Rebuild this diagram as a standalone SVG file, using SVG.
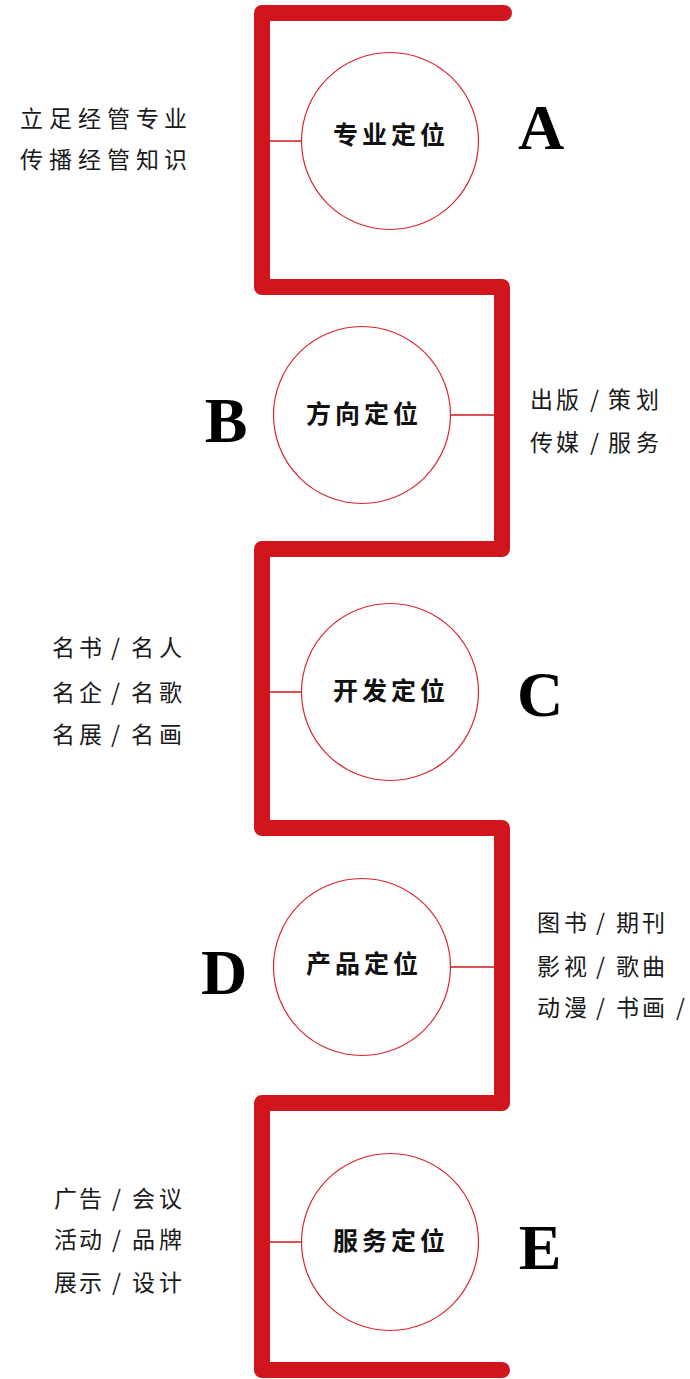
<svg xmlns="http://www.w3.org/2000/svg" width="690" height="1379" viewBox="0 0 690 1379">
<style>
.line{fill:none;stroke:#d0151d;stroke-width:16;stroke-linecap:round;stroke-linejoin:round}
.con{stroke:#d0151d;stroke-width:1.5}
.circ{fill:#fff;stroke:#d9262e;stroke-width:1.2}
.lbl{font-family:"Noto Sans CJK SC",sans-serif;font-weight:bold;font-size:25px;fill:#111;text-anchor:middle;letter-spacing:4px}
.let{font-family:"Liberation Serif",serif;font-weight:bold;font-size:64px;fill:#000;text-anchor:middle}
.txt{font-family:"Noto Sans CJK SC",sans-serif;font-size:23px;fill:#1a1a1a}
</style>
<rect width="690" height="1379" fill="#fff"/>
<g id="connectors">
<path class="line" d="M504 13 H262 V287 H502 V549 H262 V828 H502 V1103 H262 V1370 H502"/>
<line class="con" x1="270" y1="141" x2="302" y2="141"/>
<line class="con" x1="451" y1="415" x2="494" y2="415"/>
<line class="con" x1="270" y1="692" x2="302" y2="692"/>
<line class="con" x1="451" y1="967" x2="494" y2="967"/>
<line class="con" x1="270" y1="1242" x2="302" y2="1242"/>
</g>
<g id="nodeA">
<circle class="circ" cx="390" cy="141" r="88.5"/>
<text class="lbl" x="391" y="144">专业定位</text>
<text class="let" x="541" y="149">A</text>
<text class="txt" x="20 49 78 107 136 164" y="127">立足经管专业</text>
<text class="txt" x="20 49 78 107 136 164" y="168">传播经管知识</text>
</g>
<g id="nodeB">
<circle class="circ" cx="362" cy="415" r="88.5"/>
<text class="lbl" x="364" y="423">方向定位</text>
<text class="let" x="226" y="442">B</text>
<text class="txt" x="530 556 590 608 636" y="408">出版/策划</text>
<text class="txt" x="530 556 590 608 636" y="451">传媒/服务</text>
</g>
<g id="nodeC">
<circle class="circ" cx="390" cy="692" r="88.5"/>
<text class="lbl" x="391" y="700">开发定位</text>
<text class="let" x="540" y="716">C</text>
<text class="txt" x="52 79 111 131 159" y="656">名书/名人</text>
<text class="txt" x="52 79 111 131 159" y="701">名企/名歌</text>
<text class="txt" x="52 79 111 131 159" y="743">名展/名画</text>
</g>
<g id="nodeD">
<circle class="circ" cx="362" cy="967" r="88.5"/>
<text class="lbl" x="364" y="973">产品定位</text>
<text class="let" x="224" y="994">D</text>
<text class="txt" x="537 564 596 616 642" y="931">图书/期刊</text>
<text class="txt" x="537 564 596 616 642" y="975">影视/歌曲</text>
<text class="txt" x="537 564 596 616 642 676" y="1016">动漫/书画/</text>
</g>
<g id="nodeE">
<circle class="circ" cx="390" cy="1242" r="88.5"/>
<text class="lbl" x="391" y="1250">服务定位</text>
<text class="let" x="540" y="1269">E</text>
<text class="txt" x="54 79 112 132 159" y="1207">广告/会议</text>
<text class="txt" x="54 79 112 132 159" y="1248">活动/品牌</text>
<text class="txt" x="54 79 112 132 159" y="1291">展示/设计</text>
</g>
</svg>
